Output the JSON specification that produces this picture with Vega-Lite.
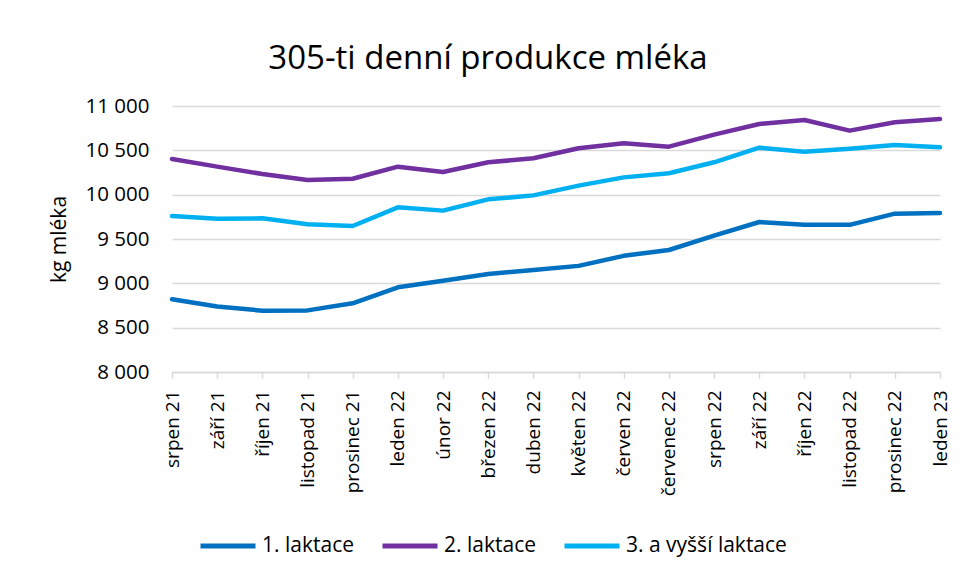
{
  "$schema": "https://vega.github.io/schema/vega-lite/v6.json",
  "width": 768,
  "height": 266,
  "autosize": {"type": "none"},
  "padding": {"left": 172, "top": 106, "right": 20, "bottom": 207},
  "background": "white",
  "title": {
    "text": "305-ti denní produkce mléka",
    "font": "Open Sans",
    "fontSize": 33,
    "fontWeight": "normal",
    "color": "#000000",
    "anchor": "middle",
    "dx": -68,
    "offset": 20
  },
  "data": {
    "values": [
      {"month": "srpen 21", "series": "1. laktace", "value": 8820},
      {"month": "září 21", "series": "1. laktace", "value": 8738},
      {"month": "říjen 21", "series": "1. laktace", "value": 8692},
      {"month": "listopad 21", "series": "1. laktace", "value": 8695},
      {"month": "prosinec 21", "series": "1. laktace", "value": 8775},
      {"month": "leden 22", "series": "1. laktace", "value": 8955},
      {"month": "únor 22", "series": "1. laktace", "value": 9030},
      {"month": "březen 22", "series": "1. laktace", "value": 9105},
      {"month": "duben 22", "series": "1. laktace", "value": 9150},
      {"month": "květen 22", "series": "1. laktace", "value": 9197},
      {"month": "červen 22", "series": "1. laktace", "value": 9310},
      {"month": "červenec 22", "series": "1. laktace", "value": 9376},
      {"month": "srpen 22", "series": "1. laktace", "value": 9538},
      {"month": "září 22", "series": "1. laktace", "value": 9692},
      {"month": "říjen 22", "series": "1. laktace", "value": 9660},
      {"month": "listopad 22", "series": "1. laktace", "value": 9660},
      {"month": "prosinec 22", "series": "1. laktace", "value": 9786},
      {"month": "leden 23", "series": "1. laktace", "value": 9793},
      {"month": "srpen 21", "series": "2. laktace", "value": 10402},
      {"month": "září 21", "series": "2. laktace", "value": 10316},
      {"month": "říjen 21", "series": "2. laktace", "value": 10233},
      {"month": "listopad 21", "series": "2. laktace", "value": 10165},
      {"month": "prosinec 21", "series": "2. laktace", "value": 10180},
      {"month": "leden 22", "series": "2. laktace", "value": 10316},
      {"month": "únor 22", "series": "2. laktace", "value": 10256},
      {"month": "březen 22", "series": "2. laktace", "value": 10365},
      {"month": "duben 22", "series": "2. laktace", "value": 10410},
      {"month": "květen 22", "series": "2. laktace", "value": 10523},
      {"month": "červen 22", "series": "2. laktace", "value": 10579},
      {"month": "červenec 22", "series": "2. laktace", "value": 10541},
      {"month": "srpen 22", "series": "2. laktace", "value": 10677},
      {"month": "září 22", "series": "2. laktace", "value": 10797},
      {"month": "říjen 22", "series": "2. laktace", "value": 10842},
      {"month": "listopad 22", "series": "2. laktace", "value": 10722},
      {"month": "prosinec 22", "series": "2. laktace", "value": 10816},
      {"month": "leden 23", "series": "2. laktace", "value": 10853},
      {"month": "srpen 21", "series": "3. a vyšší laktace", "value": 9759},
      {"month": "září 21", "series": "3. a vyšší laktace", "value": 9729},
      {"month": "říjen 21", "series": "3. a vyšší laktace", "value": 9733},
      {"month": "listopad 21", "series": "3. a vyšší laktace", "value": 9666},
      {"month": "prosinec 21", "series": "3. a vyšší laktace", "value": 9647},
      {"month": "leden 22", "series": "3. a vyšší laktace", "value": 9857},
      {"month": "únor 22", "series": "3. a vyšší laktace", "value": 9820},
      {"month": "březen 22", "series": "3. a vyšší laktace", "value": 9947},
      {"month": "duben 22", "series": "3. a vyšší laktace", "value": 9992},
      {"month": "květen 22", "series": "3. a vyšší laktace", "value": 10102},
      {"month": "červen 22", "series": "3. a vyšší laktace", "value": 10195},
      {"month": "červenec 22", "series": "3. a vyšší laktace", "value": 10241},
      {"month": "srpen 22", "series": "3. a vyšší laktace", "value": 10365},
      {"month": "září 22", "series": "3. a vyšší laktace", "value": 10530},
      {"month": "říjen 22", "series": "3. a vyšší laktace", "value": 10485},
      {"month": "listopad 22", "series": "3. a vyšší laktace", "value": 10519},
      {"month": "prosinec 22", "series": "3. a vyšší laktace", "value": 10560},
      {"month": "leden 23", "series": "3. a vyšší laktace", "value": 10534}
    ]
  },
  "mark": {"type": "line", "strokeWidth": 4.5, "strokeCap": "round", "strokeJoin": "round"},
  "encoding": {
    "x": {
      "field": "month",
      "type": "ordinal",
      "scale": {
        "type": "point",
        "padding": 0,
        "domain": ["srpen 21", "září 21", "říjen 21", "listopad 21", "prosinec 21", "leden 22", "únor 22", "březen 22", "duben 22", "květen 22", "červen 22", "červenec 22", "srpen 22", "září 22", "říjen 22", "listopad 22", "prosinec 22", "leden 23"]
      },
      "axis": {
        "title": null,
        "labelAngle": -90,
        "labelFont": "Open Sans",
        "labelFontSize": 19,
        "labelColor": "#000000",
        "labelPadding": 12,
        "domainColor": "#d9d9d9",
        "domainWidth": 1.5,
        "tickColor": "#d9d9d9",
        "tickWidth": 1.5,
        "tickSize": 6,
        "grid": false
      }
    },
    "y": {
      "field": "value",
      "type": "quantitative",
      "scale": {"domain": [8000, 11000], "nice": false, "zero": false},
      "axis": {
        "title": "kg mléka",
        "titleFont": "Open Sans",
        "titleFontSize": 21,
        "titleFontWeight": "normal",
        "titleColor": "#000000",
        "titlePadding": 16,
        "values": [8000, 8500, 9000, 9500, 10000, 10500, 11000],
        "labelExpr": "replace(format(datum.value, ','), ',', ' ')",
        "labelFont": "Open Sans",
        "labelFontSize": 20.5,
        "labelColor": "#000000",
        "labelPadding": 23,
        "domain": false,
        "ticks": false,
        "grid": true,
        "gridColor": "#d9d9d9",
        "gridWidth": 1.5
      }
    },
    "color": {
      "field": "series",
      "type": "nominal",
      "scale": {
        "domain": ["1. laktace", "2. laktace", "3. a vyšší laktace"],
        "range": ["#0070C0", "#7030A0", "#00B0F0"]
      },
      "legend": {
        "title": null,
        "orient": "none",
        "direction": "horizontal",
        "legendX": 26,
        "legendY": 410,
        "symbolType": "stroke",
        "symbolSize": 3025,
        "symbolStrokeWidth": 5,
        "labelFont": "Open Sans",
        "labelFontSize": 21,
        "labelColor": "#000000",
        "labelOffset": 4,
        "labelLimit": 400,
        "columnPadding": 18
      }
    }
  },
  "config": {"view": {"stroke": null}}
}
